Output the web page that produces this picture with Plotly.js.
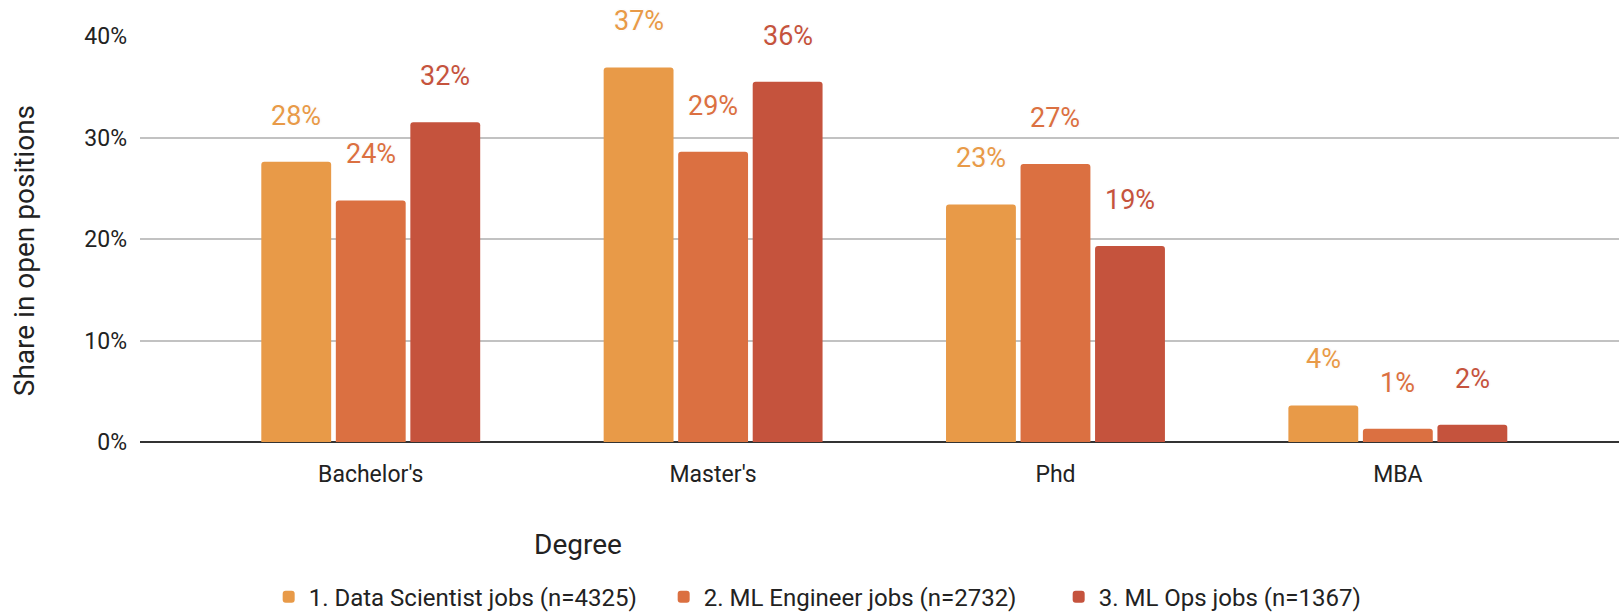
<!DOCTYPE html>
<html>
<head>
<meta charset="utf-8">
<script src="https://cdn.plot.ly/plotly-3.0.1.min.js"></script>
<style>html,body{margin:0;padding:0;background:#fff;}#chart{width:1619px;height:613px;}</style>
</head>
<body>
<div id="chart"></div>
<script>
const categories = ["Bachelor's", "Master's", "Phd", "MBA"];
const dataScientist = [27.6, 36.9, 23.4, 3.6];
const mlEngineer = [23.8, 28.6, 27.4, 1.3];
const mlOps = [31.5, 35.5, 19.3, 1.7];
const seriesNames = ["1. Data Scientist jobs (n=4325)", "2. ML Engineer jobs (n=2732)", "3. ML Ops jobs (n=1367)"];
const colors = ["#E89A48", "#DB7041", "#C5533D"];
const yTicks = [0, 10, 20, 30, 40];

const FONT = "Roboto, 'Open Sans', Arial, sans-serif";
const series = [dataScientist, mlEngineer, mlOps];

const traces = series.map((vals, j) => ({
  type: 'bar',
  name: seriesNames[j],
  x: categories,
  y: vals,
  marker: {color: colors[j], line: {width: 0}},
  hoverinfo: 'skip'
}));

const BARGAP = 0.347;
const slot = (1 - BARGAP) / 3;
const annotations = [];
series.forEach((vals, j) => {
  vals.forEach((v, i) => {
    annotations.push({
      xref: 'x', yref: 'y',
      x: i + (j - 1) * slot,
      y: v,
      yshift: 46,
      xanchor: 'center', yanchor: 'middle',
      text: Math.round(v) + '%',
      showarrow: false,
      font: {family: FONT, size: 27, weight: 400, color: colors[j],
             shadow: '1px 0 0 #fff, -1px 0 0 #fff, 0 1px 0 #fff, 0 -1px 0 #fff, 0 0 2px #d8d8d8'}
    });
  });
});
annotations.push({
  xref: 'paper', yref: 'paper',
  x: 0.296, y: -0.253,
  xanchor: 'center', yanchor: 'middle',
  text: 'Degree', showarrow: false,
  font: {family: FONT, size: 28, color: '#222'}
});
annotations.push({
  xref: 'paper', yref: 'paper',
  x: -0.0784, y: 0.47,
  xanchor: 'center', yanchor: 'middle',
  textangle: -90,
  text: 'Share in open positions', showarrow: false,
  font: {family: FONT, size: 28, color: '#222'}
});

const layout = {
  width: 1619, height: 613,
  margin: {l: 140, r: 0, t: 36, b: 171, pad: 0, autoexpand: false},
  paper_bgcolor: '#fff', plot_bgcolor: '#fff',
  font: {family: FONT, size: 23, color: '#222'},
  barmode: 'group',
  bargap: BARGAP,
  bargroupgap: 0.0625,
  barcornerradius: 3,
  showlegend: true,
  legend: {
    orientation: 'h',
    x: 0.087, xanchor: 'left',
    y: -0.382, yanchor: 'middle',
    itemwidth: 30,
    entrywidth: 350,
    entrywidthmode: 'pixels',
    font: {family: FONT, size: 24, color: '#222'},
    bgcolor: 'rgba(0,0,0,0)'
  },
  xaxis: {
    type: 'category',
    range: [-0.674, 3.646],
    automargin: false,
    showgrid: false,
    zeroline: false,
    showline: false,
    ticks: '',
    ticklabelstandoff: 16,
    tickfont: {family: FONT, size: 23, color: '#222'}
  },
  yaxis: {
    range: [0, 40],
    automargin: false,
    tickvals: yTicks,
    ticktext: yTicks.map(t => t + '%'),
    showgrid: true,
    gridcolor: '#c2c2c2',
    gridwidth: 2,
    zeroline: true,
    zerolinecolor: '#333',
    zerolinewidth: 2,
    showline: false,
    ticks: '',
    ticklabelstandoff: 12,
    tickfont: {family: FONT, size: 23, color: '#222'}
  },
  annotations: annotations
};

Plotly.newPlot('chart', traces, layout, {displayModeBar: false, staticPlot: true});
</script>
</body>
</html>
